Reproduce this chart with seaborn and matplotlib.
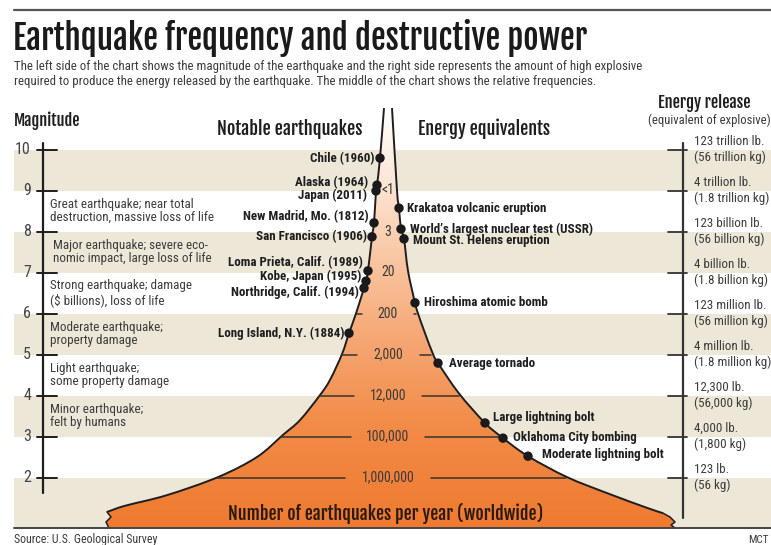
"""
Earthquake frequency and destructive power
Infographic: magnitude scale, relative frequency funnel and energy equivalents.
"""

import numpy as np
import pandas as pd
import matplotlib.pyplot as plt
import matplotlib.patches as mpatches
from matplotlib.path import Path
from matplotlib.colors import LinearSegmentedColormap
import seaborn as sns

# ---------- DATA ----------
magnitudes = [10, 9, 8, 7, 6, 5, 4, 3, 2]
energy_lb = ["123 trillion lb.", "4 trillion lb.", "123 billion lb.", "4 billion lb.",
             "123 million lb.", "4 million lb.", "12,300 lb.", "4,000 lb.", "123 lb."]
energy_kg = ["(56 trillion kg)", "(1.8 trillion kg)", "(56 billion kg)", "(1.8 billion kg)",
             "(56 million kg)", "(1.8 million kg)", "(56,000 kg)", "(1,800 kg)", "(56 kg)"]

freq_mag = [9, 8, 7, 6, 5, 4, 3, 2]
freq_labels = ["<1", "3", "20", "200", "2,000", "12,000", "100,000", "1,000,000"]

desc_mag = [8.5, 7.5, 6.5, 5.5, 4.5, 3.5]
descriptions = [
    "Great earthquake; near total\ndestruction, massive loss of life",
    "Major earthquake; severe eco-\nnomic impact, large loss of life",
    "Strong earthquake; damage\n($ billions), loss of life",
    "Moderate earthquake;\nproperty damage",
    "Light earthquake;\nsome property damage",
    "Minor earthquake;\nfelt by humans",
]

quake_names = ["Chile (1960)", "Alaska (1964)", "Japan (2011)", "New Madrid, Mo. (1812)",
               "San Francisco (1906)", "Loma Prieta, Calif. (1989)", "Kobe, Japan (1995)",
               "Northridge, Calif. (1994)", "Long Island, N.Y. (1884)"]
quake_mag = [9.79, 9.13, 8.99, 8.21, 7.87, 7.04, 6.79, 6.62, 5.52]

equiv_names = ["Krakatoa volcanic eruption", "World\u2019s largest nuclear test (USSR)",
               "Mount St. Helens eruption", "Hiroshima atomic bomb", "Average tornado",
               "Large lightning bolt", "Oklahoma City bombing", "Moderate lightning bolt"]
equiv_mag = [8.57, 8.06, 7.82, 6.26, 4.79, 3.33, 2.96, 2.52]

# funnel outline (magnitude, horizontal position)
left_mag = [1.16, 1.31, 1.57, 2.01, 2.5, 3.04, 3.4, 4.01, 4.38, 5.01, 5.52, 6.0,
            6.62, 6.79, 7.04, 7.87, 8.21, 8.99, 9.13, 9.79, 11.01]
left_x = [107, 125, 167, 218, 257, 283, 300, 320, 330, 342, 349, 356,
          364, 366, 368, 372, 374, 376, 377, 380, 384]
right_mag = [1.13, 1.26, 1.62, 2.01, 2.52, 2.96, 3.33, 4.05, 4.79, 5.01, 5.52, 6.0,
             6.26, 7.04, 7.82, 8.06, 8.57, 9.0, 11.01]
right_x = [663, 647, 607, 567, 528, 503, 485, 459, 438, 433, 425, 418,
           415, 408, 404, 401, 399, 397, 392]

# ---------- STYLE ----------
sns.set_theme(style="white")
BODY = ["Roboto Condensed", "DejaVu Sans"]
HEAD = ["Fjalla One", "Oswald", "Roboto Condensed", "DejaVu Sans"]
plt.rcParams["font.family"] = BODY

BEIGE = "#ede7d8"
INK = "#1e1e1e"
GREY = "#3c3c3c"
W, H = 771, 545


def ypix(p):
    # pixel row of the layout -> magnitude units on the axis
    return 10 - (p - 149.5) / 41.0


def smooth(pts):
    # Catmull-Rom through the read points, as cubic Bezier segments
    pts = np.asarray(pts, float)
    ext = np.vstack([2 * pts[0] - pts[1], pts, 2 * pts[-1] - pts[-2]])
    verts, codes = [], []
    for i in range(1, len(ext) - 2):
        p0, p1, p2, p3 = ext[i - 1], ext[i], ext[i + 1], ext[i + 2]
        verts += [p1 + (p2 - p0) / 6, p2 - (p3 - p1) / 6, p2]
        codes += [Path.CURVE4] * 3
    return verts, codes


fig = plt.figure(figsize=(W / 100, H / 100), dpi=100)
ax = fig.add_axes([0, 0, 1, 1])
ax.set_xlim(0, W)
ax.set_ylim(ypix(H), ypix(0))
ax.axis("off")
renderer = fig.canvas.get_renderer()


def fit(t, width):
    # scale a text so that it takes the same width as in the original graphic
    bb = t.get_window_extent(renderer=renderer)
    t.set_fontsize(t.get_fontsize() * width / bb.width)
    return t


# ---------- BANDS ----------
bottom = ypix(528)
for m in magnitudes[0::2]:
    lo = m - 1 if m > 2 else bottom
    ax.axhspan(lo, m, xmin=14 / W, xmax=1, color=BEIGE, lw=0, zorder=0)

ax.plot([14, W], [ypix(10), ypix(10)], color="#555555", lw=1.6, zorder=2)

# ---------- TITLE ----------
t = ax.text(13, ypix(38), "Earthquake frequency and destructive power", fontsize=24,
            family=HEAD, color="#1a1a1a", va="center", ha="left")
fit(t, 575)
t = ax.text(14, ypix(74), "The left side of the chart shows the magnitude of the earthquake and the right side "
            "represents the amount of high explosive\nrequired to produce the energy released by the "
            "earthquake. The middle of the chart shows the relative frequencies.",
            fontsize=9, color=GREY, va="center", ha="left", linespacing=1.2)
fit(t, 626)

# ---------- FUNNEL ----------
lm = np.array(left_mag)
lx = np.array(left_x)
order = np.argsort(right_mag)
rm = np.array(right_mag)[order]
rx = np.array(right_x)[order]

# torn-paper breaks at both lower corners (offsets in pixels from the edge ends)
zz_right = [(7, 4), (12, 9), (8, 12), (12, 15)]
zz_left = [(4, 5), (-1, 10), (2, 16)]
zr = [(rx[0], rm[0])] + [(rx[0] + dx, ypix(513 + dy)) for dx, dy in zz_right]
zl = [(lx[0], lm[0])] + [(lx[0] + dx, ypix(512 + dy)) for dx, dy in zz_left]

right_pts = list(zip(rx[::-1], rm[::-1]))
left_pts = list(zip(lx, lm))
rv, rc = smooth(right_pts)
lv, lc = smooth(left_pts)

verts = [right_pts[0]] + rv + zr[1:] + zl[::-1][:-1] + [left_pts[0]] + lv + [right_pts[0]]
codes = ([Path.MOVETO] + rc + [Path.LINETO] * (len(zr) - 1 + len(zl))
         + lc + [Path.CLOSEPOLY])
funnel = mpatches.PathPatch(Path(verts, codes), facecolor="none", edgecolor="none", zorder=1)
ax.add_patch(funnel)

cmap = LinearSegmentedColormap.from_list(
    "quake", [(0.0, "#ef7a30"), (0.25, "#f28c48"), (0.45, "#f6a774"),
              (0.65, "#f9c8a4"), (0.82, "#fde5d4"), (1.0, "#ffffff")])
grad = np.linspace(0, 1, 256).reshape(-1, 1)
im = ax.imshow(grad, extent=[90, 690, bottom, lm[-1]], origin="lower", aspect="auto",
               cmap=cmap, zorder=1)
im.set_clip_path(funnel)

for pts in (right_pts, left_pts):
    v, c = smooth(pts)
    ax.add_patch(mpatches.PathPatch(Path([pts[0]] + v, [Path.MOVETO] + c), fill=False,
                                    edgecolor=INK, lw=1.4, zorder=3))
ax.plot([p[0] for p in zr], [p[1] for p in zr], color=INK, lw=1.1, zorder=3)
ax.plot([p[0] for p in zl], [p[1] for p in zl], color=INK, lw=1.1, zorder=3)
ax.plot([14, W], [bottom, bottom], color="#444444", lw=1.4, zorder=3)

# frequency labels with short rules out to the funnel edges
cx = 388
for m, lab in zip(freq_mag, freq_labels):
    xl = np.interp(m, lm, lx)
    xr = np.interp(m, rm, rx)
    gap = 2.9 * len(lab) + 17
    ax.text(cx, m, lab, fontsize=10, color="#3a3a3a", ha="center", va="center", zorder=4)
    if cx - gap - xl > 3:
        ax.plot([xl, cx - gap], [m, m], color="#333333", lw=1.1, zorder=3)
    if xr - (cx + gap) > 3:
        ax.plot([cx + gap, xr - 2], [m, m], color="#333333", lw=1.1, zorder=3)

# ---------- NOTABLE EARTHQUAKES / ENERGY EQUIVALENTS ----------
quakes = pd.DataFrame({"name": quake_names, "mag": quake_mag})
quakes["x"] = np.interp(quakes["mag"], lm, lx)
equivs = pd.DataFrame({"name": equiv_names, "mag": equiv_mag})
equivs["x"] = np.interp(equivs["mag"], rm, rx)

dots = pd.concat([quakes, equivs], ignore_index=True)
sns.scatterplot(data=dots, x="x", y="mag", s=46, color="#1a1a1a", edgecolor="none",
                legend=False, ax=ax, zorder=5)

quake_off = [(-5, 0), (-9, 3), (-9, -4), (-5, 6), (-5, 0), (-5, 8), (-5, 5), (-5, -4), (-5, 0)]
for (_, r), (dx, dy) in zip(quakes.iterrows(), quake_off):
    ax.annotate(r["name"], (r["x"], r["mag"]), xytext=(dx, dy), textcoords="offset pixels",
                ha="right", va="center", fontsize=9.4, fontweight="bold", color=INK, zorder=6)

equiv_off = [(8, 0), (9, 0), (9, -2), (9, 0), (11, 0), (8, 5), (10, 1), (14, 2)]
for (_, r), (dx, dy) in zip(equivs.iterrows(), equiv_off):
    ax.annotate(r["name"], (r["x"], r["mag"]), xytext=(dx, dy), textcoords="offset pixels",
                ha="left", va="center", fontsize=9.4, fontweight="bold", color=INK, zorder=6)

# ---------- LEFT AXIS: MAGNITUDE ----------
t = ax.text(14, ypix(121), "Magnitude", fontsize=13, family=HEAD, color=INK, va="center")
fit(t, 67)
ax.plot([43, 43], [ypix(143), ypix(493)], color=INK, lw=1.6, zorder=3)
for m in magnitudes:
    ax.plot([37, 57], [m, m], color=INK, lw=1.4, zorder=3)
    ax.text(31, m, str(m), fontsize=11.5, color="#444444", ha="right", va="center")

for m, d in zip(desc_mag, descriptions):
    ax.text(50 if m != 7.5 else 53, m, d, fontsize=9.4, color=GREY, va="center",
            ha="left", linespacing=1.05)

t = ax.text(290, ypix(129), "Notable earthquakes", fontsize=13, family=HEAD, color=INK,
            ha="center", va="center")
fit(t, 145)
t = ax.text(418, ypix(129), "Energy equivalents", fontsize=13, family=HEAD, color=INK,
            ha="left", va="center")
fit(t, 132)

# ---------- RIGHT AXIS: ENERGY RELEASE ----------
t = ax.text(704, ypix(103), "Energy release", fontsize=13, family=HEAD, color=INK,
            ha="center", va="center")
fit(t, 93)
t = ax.text(709, ypix(120), "(equivalent of explosive)", fontsize=9, color=GREY,
            ha="center", va="center")
fit(t, 122)
ax.plot([683, 683], [ypix(143), ypix(518)], color="#333333", lw=1.6, zorder=3)
for m, lb, kg in zip(magnitudes, energy_lb, energy_kg):
    ax.plot([668, 687], [m, m], color="#333333", lw=1.3, zorder=3)
    ax.text(694, m, lb + "\n" + kg, fontsize=9.4, color=GREY, ha="left", va="center",
            linespacing=1.25)

# ---------- FOOTER ----------
t = ax.text(386, ypix(513), "Number of earthquakes per year (worldwide)", fontsize=14,
            family=HEAD, color="#2a1a10", ha="center", va="center", zorder=6)
fit(t, 315)
t = ax.text(14, ypix(540), "Source: U.S. Geological Survey", fontsize=7.6, color=GREY,
            ha="left", va="center")
fit(t, 142)
ax.text(769, ypix(540), "MCT", fontsize=8, color=GREY, ha="right", va="center")

fig.savefig("out.png", dpi=100)
